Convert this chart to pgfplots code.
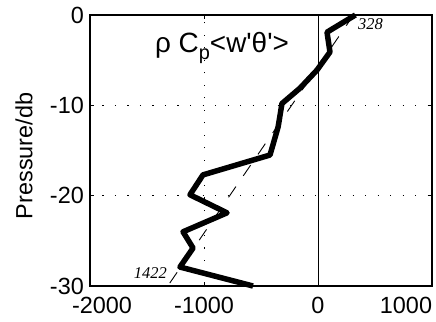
\documentclass[border=0pt]{standalone}
\usepackage{fontspec}
\setmainfont{Liberation Sans}
\newfontfamily\serifit{Liberation Serif}
\usepackage{pgfplots}
\pgfplotsset{compat=1.18}
\begin{document}
\begin{tikzpicture}
\begin{axis}[
  scale only axis,
  width=342bp, height=271bp,
  xmin=-2000, xmax=1000, ymin=-30, ymax=0,
  xtick={-2000,-1000,0,1000},
  xticklabels={\hspace*{24bp}-2000,-1000,0,1000\hspace*{52bp}},
  ytick={-30,-20,-10,0},
  /pgf/number format/assume math mode=true,
  tick label style={font=\fontsize{23.5}{28}\selectfont, inner sep=0pt},
  xticklabel style={anchor=north, yshift=-11bp},
  yticklabel style={anchor=east, xshift=-6bp},
  tick align=inside,
  major tick length=4bp,
  tick style={black, line width=0.8bp},
  axis line style={line width=1.6bp},
  grid=major,
  major grid style={black, line width=0.9bp, dash pattern=on 1.2bp off 11.3bp},
  ylabel={Pressure/db},
  ylabel style={font=\fontsize{23.5}{28}\selectfont, at={(axis description cs:-0.193,0.48)}, anchor=center},
  clip=false,
]
\addplot [black, line width=0.8bp] coordinates {(0,-30) (0,0)};
\addplot [black, line width=0.9bp, dash pattern=on 13bp off 13bp] coordinates {(312,0) (-1318,-30)};
\addplot [black, line width=5.5bp, line join=round] coordinates {
(328,0) (79,-1.9) (105,-4.1) (-9,-6.1) (-158,-8.1) (-316,-9.8) (-350,-12.4)
(-421,-15.5) (-1009,-17.7) (-1123,-19.9) (-798,-21.9) (-1184,-24.0)
(-1096,-25.8) (-1211,-27.9) (-570,-30)};
\node [anchor=west, inner sep=0pt, font=\serifit\itshape\fontsize{16.5}{18}\selectfont] at (axis cs:351,-1.0) {328};
\node [anchor=east, inner sep=0pt, font=\serifit\itshape\fontsize{16.5}{18}\selectfont] at (axis cs:-1325,-28.6) {1422};
\node [anchor=center, inner sep=0pt, font=\fontsize{28}{32}\selectfont] at (axis cs:-842,-3.65) {ρ C\raisebox{-0.22em}{\fontsize{20}{20}\selectfont p}<w\textquotesingle θ\textquotesingle >};
\end{axis}
\path (current axis.south west) ++(-90bp,-36bp) coordinate (bl);
\path (current axis.north east) ++(4bp,15bp) coordinate (tr);
\pgfresetboundingbox
\useasboundingbox (bl) rectangle (tr);
\end{tikzpicture}
\end{document}
